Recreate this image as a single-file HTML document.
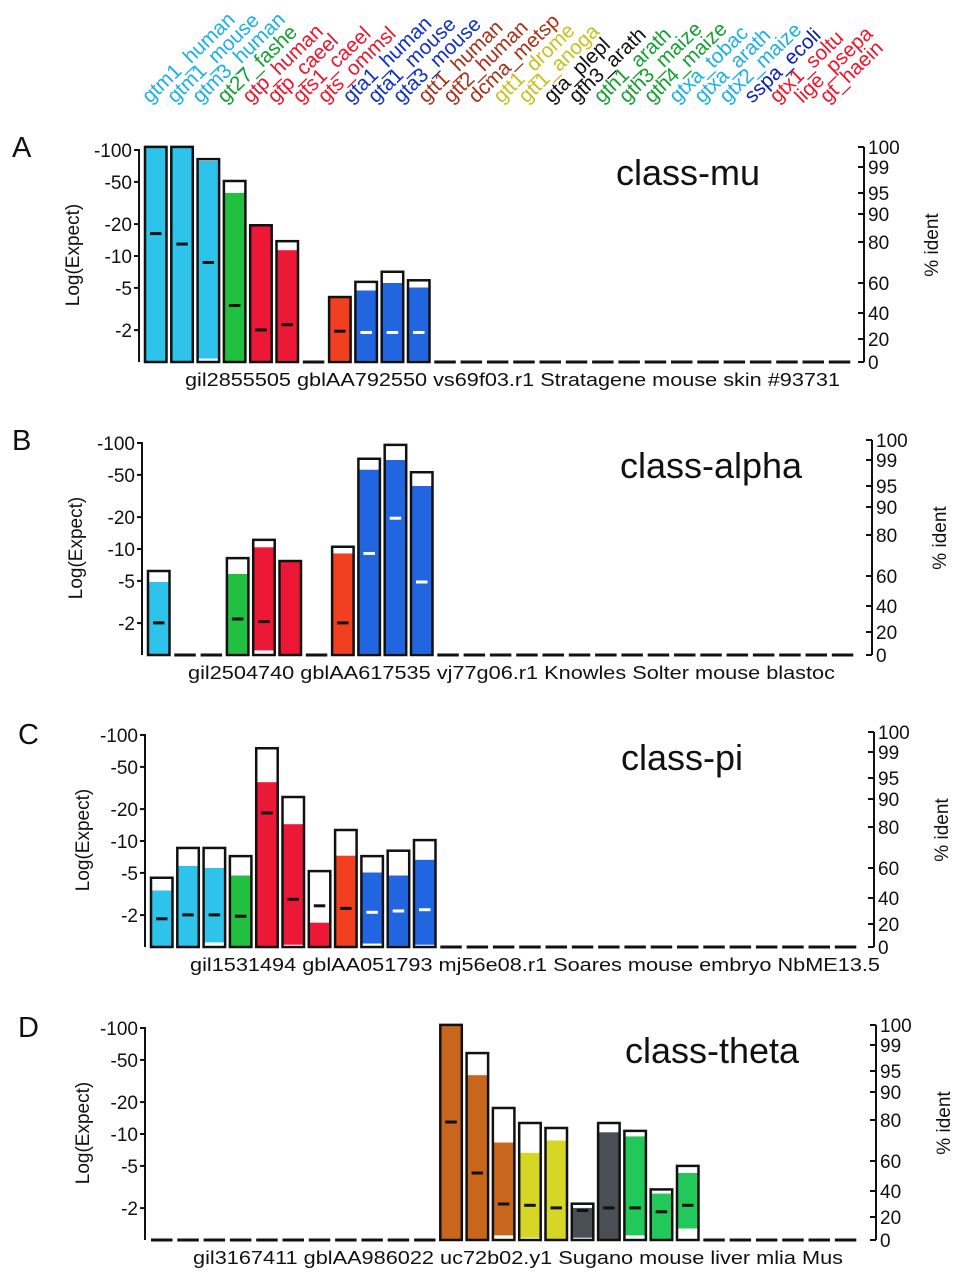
<!DOCTYPE html>
<html><head><meta charset="utf-8">
<style>
html,body{margin:0;padding:0;background:#fff;}
svg{display:block;font-family:"Liberation Sans",Arial,sans-serif;}
</style></head>
<body>
<svg id="fig" width="955" height="1280" viewBox="0 0 955 1280" xmlns="http://www.w3.org/2000/svg"></svg>
<script>
// ---- data ----
const speciesLabels = ["gtm1_human","gtm1_mouse","gtm3_human","gt27_fashe","gtp_human","gtp_caeel","gts1_caeel","gts_ommsl","gta1_human","gta1_mouse","gta3_mouse","gtt1_human","gtt2_human","dcma_metsp","gtt1_drome","gtt1_anoga","gta_plepl","gth3_arath","gth1_arath","gth3_maize","gth4_maize","gtxa_tobac","gtxa_arath","gtx2_maize","sspa_ecoli","gtx1_soltu","lige_psepa","gt_haein"];
const labelColors = ["#1ab0e8","#1ab0e8","#1ab0e8","#12a030","#f0142a","#f0142a","#f0142a","#f0142a","#1030c8","#1030c8","#1030c8","#a83018","#a83018","#a83018","#c8c020","#c8c020","#111","#111","#14a030","#14a030","#14a030","#1ab0e8","#1ab0e8","#1ab0e8","#0a20b0","#f0142a","#f0142a","#f0142a"];
const barColors = ["#2ec3ea","#2ec3ea","#2ec3ea","#22c040","#ec1836","#ec1836","#ec1836","#f04020","#2166e0","#2166e0","#2166e0","#c8661e","#c8661e","#c8661e","#d6d624","#d6d624","#4a4f56","#4a4f56","#22c85a","#22c85a","#22c85a"];
const leftTicks = [2,5,10,20,50,100];
const leftTickLabels = ["-2","-5","-10","-20","-50","-100"];
const rightTicks = [0,20,40,60,80,90,95,99,100];
const panelLetters = ["A","B","C","D"];
const panelTitles = ["class-mu","class-alpha","class-pi","class-theta"];
const captions = ["gil2855505 gblAA792550 vs69f03.r1 Stratagene mouse skin #93731","gil2504740 gblAA617535 vj77g06.r1 Knowles Solter mouse blastoc","gil1531494 gblAA051793 mj56e08.r1 Soares mouse embryo NbME13.5","gil3167411 gblAA986022 uc72b02.y1 Sugano mouse liver mlia Mus"];
// Expect magnitude (box top), % ident (fill top), marker % ident, bottom gap %
const muExpect = [107,107,82,51,19.5,13.8,0,4.1,5.7,7.1,5.9];
const muIdent  = [100,100,99.3,95,86,76,0,52,55,60,57];
const muMark   = [83,79,70,45,27,31,0,26,25,25,25];
const muGap    = [0,0,3,0,0,1,0,1,1,1,1];
const alphaExpect = [6.2,0,0,8.2,12.2,7.7,0,10.5,71,96,53];
const alphaIdent  = [56,0,0,61,74,67,0,71,97.5,99,95];
const alphaMark   = [27,0,0,30,28,0,0,27,71,86,56];
const alphaGap    = [0,0,0,1,4,0,0,1,1,1,1];
const piExpect = [4.5,8.6,8.6,7.2,75,26,5.2,12.7,7.2,8.1,10.2];
const piIdent  = [45,61,60,55,94,81,21,66,57,55,64];
const piMark   = [24,27,27,26,85,39,34,32,29,30,31];
const piGap    = [0,0,4,0,0,2,0,0,3,1,2];
const thetaExpect = [0,0,0,0,0,0,0,0,0,0,0,107,58,17.6,12.7,11.4,2.2,12.7,10.7,3.0,5.0];
const thetaIdent  = [0,0,0,0,0,0,0,0,0,0,0,100,94,69,64,70,27,74,72,38,52];
const thetaMark   = [0,0,0,0,0,0,0,0,0,0,0,79,52,30,29,27,25,27,27,24,29];
const thetaGap    = [0,0,0,0,0,0,0,0,0,0,0,0,0,4,2,0,2,0,4,0,10];

const panels = [
 {expect:muExpect, ident:muIdent, mark:muMark, gap:muGap, base:362, x0:145, rx:864},
 {expect:alphaExpect, ident:alphaIdent, mark:alphaMark, gap:alphaGap, base:655, x0:148, rx:872},
 {expect:piExpect, ident:piIdent, mark:piMark, gap:piGap, base:947, x0:151, rx:874},
 {expect:thetaExpect, ident:thetaIdent, mark:thetaMark, gap:thetaGap, base:1240, x0:151, rx:876}
];
const titleX=[688,711,682,712];
const capX=[185,188,190,193];

// ---- scales ----
const NBARS = 27, PITCH = 26.3, BW = 21.5, DEC = 106;
const identTab = [[0,0],[20,23],[40,49],[60,79],[80,120],[90,148],[95,169],[99,195],[100,215]];
function yExpect(base, v){ return v<=1 ? base : base - DEC*Math.log10(v); }
function yIdent(base, p){
  if (p<=0) return base;
  for (let i=1;i<identTab.length;i++){
    const [a,ha]=identTab[i-1],[b,hb]=identTab[i];
    if (p<=b) return base-(ha+(hb-ha)*(p-a)/(b-a));
  }
  return base-215;
}
function xBar(P,i){ return P.x0 + i*PITCH; }

const NS="http://www.w3.org/2000/svg";
const svg=document.getElementById('fig');
function mk(tag, attrs, parent){
  const e=document.createElementNS(NS,tag);
  for(const k in attrs) e.setAttribute(k,attrs[k]);
  (parent||svg).appendChild(e); return e;
}

// header labels
const hdr=mk('g',{});


speciesLabels.forEach((s,i)=>{
  const x=150+i*25.1, y=104;
  const t=mk('text',{x:x,y:y,fill:labelColors[i],'font-size':20.5,transform:`rotate(-44 ${x} ${y})`},hdr);
  
  
  t.textContent=s;
});

panels.forEach((P,pi)=>{
  const g=mk('g',{});
  
  
  const base=P.base, top=base-215;
  const L=mk('text',{x:pi<2?12:18,y:top+10+(pi>1?2:0),'font-size':29,fill:'#111'},g);
  
  
  L.textContent=panelLetters[pi];
  const T=mk('text',{x:titleX[pi],y:top+38,'font-size':36,fill:'#111','text-anchor':'middle'},g);
  
  
  T.textContent=panelTitles[pi];
  // left axis
  const ax=P.x0-6;
  const la=mk('line',{x1:ax,y1:top+2,x2:ax,y2:base,stroke:'#111','stroke-width':2},g);
  
  
  leftTicks.forEach((v,k)=>{
    const y=yExpect(base,v);
    mk('line',{x1:ax-5,y1:y,x2:ax,y2:y,stroke:'#111','stroke-width':2},g);
    const t=mk('text',{x:ax-7,y:y+7,'font-size':19,fill:'#111','text-anchor':'end'},g);
    
    
    t.textContent=leftTickLabels[k];
  });
  const yl=mk('text',{x:0,y:0,'font-size':19,fill:'#111','text-anchor':'middle',transform:`translate(${ax-60+(pi>1?4:0)},${base-107}) rotate(-90)`},g);
  
  
  yl.textContent='Log(Expect)';
  // right axis
  const rx=P.rx;
  const ra=mk('line',{x1:rx,y1:top,x2:rx,y2:base,stroke:'#111','stroke-width':2},g);
  
  
  rightTicks.forEach(v=>{
    const y=yIdent(base,v);
    mk('line',{x1:rx-6,y1:y,x2:rx,y2:y,stroke:'#111','stroke-width':2},g);
    const t=mk('text',{x:rx+4,y:y+7,'font-size':19,fill:'#111'},g);
    
    
    t.textContent=String(v);
  });
  const yr=mk('text',{x:0,y:0,'font-size':19,fill:'#111','text-anchor':'middle',transform:`translate(${rx+74},${base-117}) rotate(-90)`},g);
  
  
  yr.textContent='% ident';
  // bars
  for(let i=0;i<NBARS;i++){
    const x=xBar(P,i);
    const e=P.expect[i]||0;
    if(e<=0){
      const d=mk('line',{x1:x,y1:base,x2:x+BW,y2:base,stroke:'#111','stroke-width':3},g);
      
      
      continue;
    }
    const bg=mk('g',{},g);
    
    
    const yt=yExpect(base,e);
    mk('rect',{x:x,y:yt,width:BW,height:base-yt,fill:'#fff'},bg);
    const yf=Math.max(yt,yIdent(base,P.ident[i]));
    const yg=yIdent(base,P.gap[i]);
    if(yg>yf) mk('rect',{x:x,y:yf,width:BW,height:yg-yf,fill:barColors[i]},bg);
    mk('rect',{x:x,y:yt,width:BW,height:base-yt,fill:'none',stroke:'#111','stroke-width':2.5},bg);
    if(P.mark[i]>0){
      const ym=yIdent(base,P.mark[i]);
      const mc=(i>=8&&i<=10)?'#fff':'#111';
      const m=mk('line',{x1:x+5,y1:ym,x2:x+BW-5,y2:ym,stroke:mc,'stroke-width':3},bg);
      
      
    }
  }
  const c=mk('text',{x:capX[pi],y:base+24,'font-size':18,fill:'#111',textLength:pi==0?655:(pi==1?647:(pi==2?690:650)),lengthAdjust:'spacingAndGlyphs'},g);
  
  
  c.textContent=captions[pi];
});
</script>
</body></html>
